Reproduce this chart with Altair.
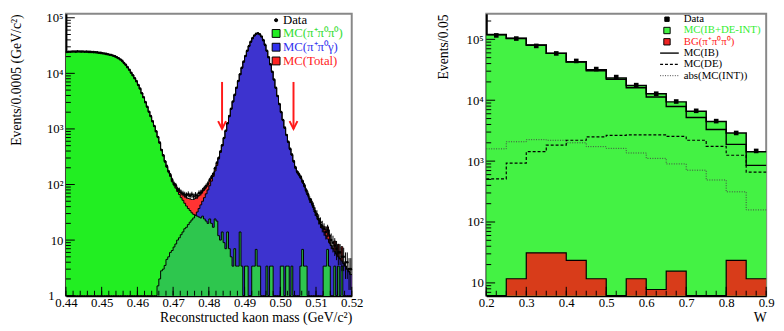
import numpy as np
import pandas as pd
import altair as alt

F = "Liberation Serif"

# ---------------- left panel: reconstructed kaon mass, bins of 0.0005 GeV/c^2 from 0.44 to 0.52
mass_lo, mass_bin, n_mass = 0.44, 0.0005, 160

mc_3pi = [
    24300, 24500, 24400, 24600, 24700, 24600, 24800, 24700, 24600, 24700, 24500, 24600,
    24400, 24300, 24300, 24100, 24000, 23800, 23500, 23300, 23000, 22700, 22400, 22000, 21700, 21300,
    20800, 20200, 19500, 18700, 17800, 16700, 15400, 14200, 12900, 11600, 10300, 9200, 8200, 7200,
    6200, 5300, 4400, 3700, 3050, 2500, 2050, 1680, 1380, 1120, 900, 720, 560, 420, 330, 260, 205, 170, 140, 112,
    98, 86, 75, 66, 58, 52, 46, 41, 37, 34, 31, 29, 28, 27, 26, 25, 27, 24, 22, 20,
    24, 20, 17, 24, 22, 12, 10, 14, 9, 7, 14, 7, 5, 3.4, 7, 3.4, 3.4,
    14, 3.4, 0, 3.4, 3.4, 0, 0, 3.4, 3.4, 6.8, 3.4, 3.4, 0, 0, 0, 3.4, 0, 3.4, 3.4, 0,
    0, 0, 0, 3.4, 3.4, 0, 3.4, 3.4, 0, 3.4, 0, 0, 0, 0, 3.4, 6.8, 3.4, 3.4, 0, 0,
    0, 0, 0, 0, 0, 0, 0, 3.4, 3.4, 6.8, 3.4, 0, 0, 3.4, 0, 3.4, 0, 3.4, 0, 0,
    0, 0, 0,
]
mc_pipig = [
    0, 0, 0, 0, 0, 0, 0, 0, 0, 0,
    0, 0, 0, 0, 0, 0, 0, 0, 0, 0,
    0, 0, 0, 0, 0, 0, 0, 0, 0, 0,
    0, 0, 0, 0, 0, 0, 0, 0, 0, 0,
    0, 0, 0, 0, 0, 0, 0, 0, 0, 0,
    1, 1.5, 2, 2.8, 3, 3.5, 4.5, 5, 6, 6.5,
    7.5, 8.5, 10, 11, 12.5, 14, 16, 17, 19, 21,
    23, 25, 28, 32, 37, 43, 50, 58, 68, 80,
    95, 115, 140, 175, 220, 290, 380, 500, 680, 920,
    1250, 1700, 2300, 3100, 4100, 5500, 7300, 9600, 12600, 16200,
    20500, 25500, 31000, 37000, 43000, 48000, 51500, 52500, 50500, 46000,
    39500, 32500, 25500, 19500, 14500, 10700, 7700, 5500, 3900, 2800,
    2000, 1450, 1050, 780, 580, 440, 340, 265, 200, 170,
    150, 130, 110, 92, 77, 65, 56, 47, 39, 32,
    27, 23, 19.5, 16.5, 14, 12, 10.5, 9, 8, 7,
    6.2, 5.6, 5, 4.6, 4.2, 3.8, 3.4, 3, 2.7, 2.4,
]
data_mass = [
    24250, 24480, 24420, 24650, 24690, 24580, 24820, 24660, 24640, 24720, 24470, 24610,
    24380, 24330, 24260, 24120, 23980, 23830, 23460, 23320, 22990, 22740, 22370, 22040, 21660, 21330,
    20770, 20240, 19480, 18730, 17760, 16740, 15380, 14230, 12870, 11640, 10280, 9230, 8180, 7240,
    6180, 5330, 4380, 3720, 3030, 2510, 2040, 1700, 1370, 1130,
    905, 716, 570, 418, 336, 259, 214, 171, 149, 121,
    103, 97, 82, 79, 72, 69, 66, 64, 67, 63,
    66, 61, 65, 63, 70, 72, 78, 86, 94, 104,
    121, 137, 155, 196, 245, 300, 393, 510, 688, 930,
    1262, 1700, 2310, 3110, 4095, 5520, 7290, 9630, 12580, 16230,
    20480, 25540, 30970, 37020, 42980, 48040, 51470, 52540, 50470, 46030,
    39530, 32470, 25530, 19480, 14520, 10690, 7710, 5490, 3910, 2795,
    2010, 1448, 1055, 779, 586, 437, 346, 262, 203, 168,
    152, 136, 113, 97, 78, 67, 54, 49, 41, 33,
    29, 24, 21, 18, 16, 14, 15, 12, 10, 9,
    8, 7, 6, 6, 5, 5, 4, 4, 3, 3,
]
mass_cut = [0.4837, 0.5037]
arrow_top, arrow_tip = 7000, 1000

# ---------------- right panel: W, bins of 0.05 from 0.2 to 0.9
w_lo, w_bin, n_w = 0.2, 0.05, 14
mc_ib_de_int = [119000, 103000, 80000, 58800, 43000, 31600, 23200, 17400, 12800, 9400, 6580, 4470, 2900, 1430]
bg_3pi = [0, 11.7, 31.2, 31.2, 23.4, 11.7, 0, 11.7, 7.8, 15.6, 0, 0, 23.4, 11.7]
mc_ib = [120000, 104000, 81000, 59000, 42500, 30500, 22000, 16000, 11300, 7900, 5200, 3300, 1880, 850]
mc_de = [510, 930, 1430, 1830, 2200, 2500, 2650, 2700, 2700, 2550, 2200, 1750, 1250, 660]
mc_int_abs = [1590, 2080, 2250, 2200, 2000, 1730, 1620, 1360, 1110, 900, 710, 490, 313, 158]
data_w = [116000, 103000, 78000, 58700, 44200, 32500, 24000, 17700, 12800, 9530, 6700, 4540, 2900, 1470]

assert len(mc_3pi) == n_mass and len(mc_pipig) == n_mass and len(data_mass) == n_mass

# ---------------- colours
GREEN_L, BLUE_L, RED_L, OVER_L = "#22ee22", "#3d33cf", "#ff3333", "#2ec64e"
GREEN_R, RED_R = "#44f244", "#d83c1a"
FLOOR = 0.3


def ext(a):
    a = np.asarray(a, dtype=float)
    return np.append(a, a[-1])


# ---------------- left data frames
g = np.asarray(mc_3pi, float)
b = np.asarray(mc_pipig, float)
mass_edges = np.round(mass_lo + mass_bin * np.arange(n_mass + 1), 5)
dfL = pd.DataFrame({
    "m": mass_edges,
    "g": np.maximum(ext(g), FLOOR),
    "b": np.maximum(ext(b), FLOOR),
    "t": np.maximum(ext(g + b), FLOOR),
    "ov": np.maximum(ext(np.minimum(g, b)), FLOOR),
})
d = np.asarray(data_mass, float)
dfLp = pd.DataFrame({
    "m": mass_lo + mass_bin * (np.arange(n_mass) + 0.5),
    "d": d,
    "lo": np.maximum(d - np.sqrt(d), FLOOR),
    "hi": d + np.sqrt(d),
})
dfArrow = pd.DataFrame({"m": mass_cut, "top": [arrow_top] * 2, "tip": [arrow_tip] * 2})

WL, HL = 291, 287
WR, HR = 285, 287
yL_top = 117800
yR_bot, yR_top = 6.17, 262600

xL = alt.Scale(domain=[0.44, 0.52], nice=False, zero=False)
yL = alt.Scale(type="log", domain=[1, yL_top], nice=False, clamp=True)

lab_expr = ("datum.value < 5 ? '1' : datum.value < 50 ? '10' : datum.value < 500 ? '10²' : "
            "datum.value < 5000 ? '10³' : datum.value < 50000 ? '10⁴' : '10⁵'")

axLx = alt.Axis(values=[0.44, 0.45, 0.46, 0.47, 0.48, 0.49, 0.50, 0.51, 0.52], format=".2f",
                ticks=False, grid=False, domainColor="black", domainWidth=2, labelFont=F,
                labelFontSize=13, labelColor="black", labelPadding=1, labelFlush=False,
                labelOverlap=False, title="Reconstructed kaon mass (GeV/c²)", titleFont=F,
                titleFontSize=14, titleFontWeight="normal", titleColor="black", titleAnchor="end",
                titlePadding=1)
axLy = alt.Axis(values=[1, 10, 100, 1000, 10000, 100000], labelExpr=lab_expr, ticks=False,
                grid=False, domainColor="black", domainWidth=2, labelFont=F, labelFontSize=13,
                labelColor="black",
                labelPadding={"condition": {"test": "datum.value < 5", "value": 12}, "value": 3},
                labelOverlap=False,
                title="Events/0.0005 (GeV/c²)", titleFont=F, titleFontSize=14,
                titleFontWeight="normal", titleColor="black", titleAnchor="end", titlePadding=23)


def XL(f):
    return alt.X(f, type="quantitative", scale=xL, axis=axLx)


def YL(f):
    return alt.Y(f, type="quantitative", scale=yL, axis=axLy)


baseL = alt.Chart(dfL)
areaT = baseL.mark_area(interpolate="step-after", color=RED_L).encode(x=XL("m"), y=YL("t"), y2=alt.datum(1))
areaB = baseL.mark_area(interpolate="step-after", color=BLUE_L).encode(x=XL("m"), y=YL("b"), y2=alt.datum(1))
areaG = baseL.mark_area(interpolate="step-after", color=GREEN_L).encode(x=XL("m"), y=YL("g"), y2=alt.datum(1))
areaO = baseL.mark_area(interpolate="step-after", color=OVER_L).encode(x=XL("m"), y=YL("ov"), y2=alt.datum(1))
lineT = baseL.mark_line(interpolate="step-after", color="black", strokeWidth=1).encode(x=XL("m"), y=YL("t"))
lineB = baseL.mark_line(interpolate="step-after", color="black", strokeWidth=1).encode(x=XL("m"), y=YL("b"))
lineG = baseL.mark_line(interpolate="step-after", color="black", strokeWidth=1).encode(x=XL("m"), y=YL("g"))
errL = alt.Chart(dfLp).mark_rule(color="black", strokeWidth=1).encode(x=XL("m"), y=YL("lo"), y2="hi")
ptsL = alt.Chart(dfLp).mark_circle(color="black", size=7, opacity=1).encode(x=XL("m"), y=YL("d"))
arrL = alt.Chart(dfArrow).mark_rule(color="#ff1a1a", strokeWidth=2).encode(x=XL("m"), y=YL("top"), y2="tip")
arrH = alt.Chart(dfArrow).mark_point(shape="M-1,-2L0,0L1,-2", filled=False, color="#ff1a1a",
                                     strokeWidth=2, size=64, opacity=1).encode(x=XL("m"), y=YL("tip"))

yL_major = [1, 10, 100, 1000, 10000, 100000]
yL_minor = [k * 10 ** e for e in range(0, 5) for k in range(2, 10)]
xL_major = [0.44, 0.45, 0.46, 0.47, 0.48, 0.49, 0.50, 0.51, 0.52]
xL_minor = [round(0.44 + 0.002 * k, 4) for k in range(41)]


def ytick_layer(vals, ycol_fn, length):
    return alt.Chart(pd.DataFrame({"v": vals})).mark_rule(color="black", strokeWidth=1).encode(
        y=ycol_fn("v"), x=alt.value(0), x2=alt.value(length))


def xtick_layer(vals, xcol_fn, length, h):
    return alt.Chart(pd.DataFrame({"v": vals})).mark_rule(color="black", strokeWidth=1).encode(
        x=xcol_fn("v"), y=alt.value(h), y2=alt.value(h - length))


ticksL = [ytick_layer(yL_major, YL, 9), ytick_layer(yL_minor, YL, 5),
          xtick_layer(xL_major, XL, 9, HL), xtick_layer(xL_minor, XL, 5, HL)]

one = pd.DataFrame({"a": [0]})


def leg_text(txt, x, y, color, size):
    return alt.Chart(one).mark_text(text=txt, align="left", baseline="middle", font=F,
                                    fontSize=size, color=color).encode(x=alt.value(x), y=alt.value(y))


def leg_box(x, y, color, size=64, shape="square"):
    return alt.Chart(one).mark_point(shape=shape, filled=True, fill=color, stroke="black",
                                     strokeWidth=1, size=size, opacity=1).encode(x=alt.value(x), y=alt.value(y))


LFL = 13
legL = [
    leg_box(214, 6.5, "black", size=10, shape="circle"),
    leg_text("Data", 221, 6.5, "black", LFL),
    leg_box(214, 20, GREEN_L),
    leg_text("MC(π⁺π⁰π⁰)", 221, 20, "#33dd33", LFL),
    leg_box(214, 34, "#3333ee"),
    leg_text("MC(π⁺π⁰γ)", 221, 34, "#3333ee", LFL),
    leg_box(214, 48, "#ff2222"),
    leg_text("MC(Total)", 221, 48, "#ff2222", LFL),
]

left = alt.layer(areaT, areaB, areaG, areaO, lineT, lineB, lineG, errL, ptsL, arrL, arrH,
                 *ticksL, *legL).properties(width=WL, height=HL)

# ---------------- right data frames
w_edges = np.round(w_lo + w_bin * np.arange(n_w + 1), 3)
dfR = pd.DataFrame({
    "w": w_edges,
    "g": np.maximum(ext(mc_ib_de_int), FLOOR),
    "bg": np.maximum(ext(bg_3pi), FLOOR),
    "ib": ext(mc_ib),
    "de": ext(mc_de),
    "int": ext(mc_int_abs),
})
dw = np.asarray(data_w, float)
dfRp = pd.DataFrame({
    "w": w_lo + w_bin * (np.arange(n_w) + 0.5),
    "d": dw,
    "lo": dw - np.sqrt(dw),
    "hi": dw + np.sqrt(dw),
})

xR = alt.Scale(domain=[0.2, 0.9], nice=False, zero=False)
yR = alt.Scale(type="log", domain=[yR_bot, yR_top], nice=False, clamp=True)
axRx = alt.Axis(values=[0.2, 0.3, 0.4, 0.5, 0.6, 0.7, 0.8, 0.9], format=".1f", ticks=False,
                grid=False, domainColor="black", domainWidth=2, labelFont=F, labelFontSize=13,
                labelColor="black", labelPadding=1, labelFlush=False, labelOverlap=False,
                title="W", titleFont=F, titleFontSize=14, titleFontWeight="normal",
                titleColor="black", titleAnchor="end", titlePadding=1)
axRy = alt.Axis(values=[10, 100, 1000, 10000, 100000], labelExpr=lab_expr, ticks=False,
                grid=False, domainColor="black", domainWidth=2, labelFont=F, labelFontSize=13,
                labelColor="black", labelPadding=3, labelOverlap=False, title="Events/0.05",
                titleFont=F, titleFontSize=14, titleFontWeight="normal", titleColor="black",
                titleAnchor="end", titlePadding=16)


def XR(f):
    return alt.X(f, type="quantitative", scale=xR, axis=axRx)


def YR(f):
    return alt.Y(f, type="quantitative", scale=yR, axis=axRy)


baseR = alt.Chart(dfR)
areaRG = baseR.mark_area(interpolate="step-after", color=GREEN_R).encode(x=XR("w"), y=YR("g"), y2=alt.datum(yR_bot))
lineRG = baseR.mark_line(interpolate="step-after", color="black", strokeWidth=1.5).encode(x=XR("w"), y=YR("g"))
areaRB = baseR.mark_area(interpolate="step-after", color=RED_R).encode(x=XR("w"), y=YR("bg"), y2=alt.datum(yR_bot))
lineRB = baseR.mark_line(interpolate="step-after", color="black", strokeWidth=1.2).encode(x=XR("w"), y=YR("bg"))
lineIB = baseR.mark_line(interpolate="step-after", color="black", strokeWidth=1.4).encode(x=XR("w"), y=YR("ib"))
lineDE = baseR.mark_line(interpolate="step-after", color="black", strokeWidth=1.2,
                         strokeDash=[3, 2]).encode(x=XR("w"), y=YR("de"))
lineINT = baseR.mark_line(interpolate="step-after", color="#444444", strokeWidth=1,
                          strokeDash=[1, 1.5]).encode(x=XR("w"), y=YR("int"))
errR = alt.Chart(dfRp).mark_rule(color="black", strokeWidth=1).encode(x=XR("w"), y=YR("lo"), y2="hi")
ptsR = alt.Chart(dfRp).mark_square(color="black", size=22, opacity=1).encode(x=XR("w"), y=YR("d"))

yR_major = [10, 100, 1000, 10000, 100000]
yR_minor = [7, 8, 9] + [k * 10 ** e for e in range(1, 6) for k in range(2, 10) if k * 10 ** e <= yR_top]
xR_major = [0.2, 0.3, 0.4, 0.5, 0.6, 0.7, 0.8, 0.9]
xR_minor = [round(0.2 + 0.025 * k, 4) for k in range(29)]
ticksR = [ytick_layer(yR_major, YR, 9), ytick_layer(yR_minor, YR, 5),
          xtick_layer(xR_major, XR, 9, HR), xtick_layer(xR_minor, XR, 5, HR)]


def leg_line(x1, x2, y, dash=None, color="black", width=1.4):
    kw = dict(color=color, strokeWidth=width)
    if dash:
        kw["strokeDash"] = dash
    return alt.Chart(one).mark_rule(**kw).encode(x=alt.value(x1), x2=alt.value(x2), y=alt.value(y))


LF = 11
legR = [
    leg_box(184, 5.5, "black", size=20, shape="square"),
    leg_text("Data", 201, 5.5, "black", LF),
    leg_box(184, 17, GREEN_R, size=42),
    leg_text("MC(IB+DE-INT)", 201, 17, "#33ee33", LF),
    leg_box(184, 28.5, "#ee2222", size=42),
    leg_text("BG(π⁺π⁰π⁰)", 201, 28.5, "#ff2222", LF),
    leg_line(177, 196, 40),
    leg_text("MC(IB)", 201, 40, "black", LF),
    leg_line(177, 196, 51.5, dash=[3, 2], width=1.2),
    leg_text("MC(DE)", 201, 51.5, "black", LF),
    leg_line(177, 196, 63, dash=[1, 1.5], color="#444444", width=1),
    leg_text("abs(MC(INT))", 201, 63, "black", LF),
]

right = alt.layer(areaRG, lineRG, areaRB, lineRB, lineIB, lineDE, lineINT, errR, ptsR,
                  *ticksR, *legR).properties(width=WR, height=HR)

chart = alt.hconcat(left, right, spacing=72).properties(
    padding={"left": 0, "right": 0, "top": 0, "bottom": 0},
    background="white",
).configure_view(stroke="#888888", strokeWidth=2)

chart.save("out.html", embed_options={"renderer": "svg", "actions": False})
